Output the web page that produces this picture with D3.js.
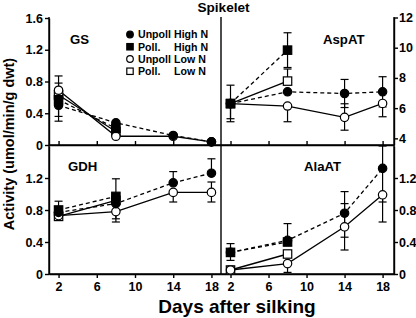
<!DOCTYPE html>
<html><head><meta charset="utf-8">
<script src="https://cdn.jsdelivr.net/npm/d3@7"></script>
<style>
body{margin:0;background:#fff}
svg{display:block}
text{font-family:"Liberation Sans",Arial,sans-serif;font-weight:bold;fill:#000}
</style>
</head><body>
<svg id="c" width="416" height="318"></svg>
<script>
// ---------- data ----------
const days = [2, 8, 14, 18];
const xTickValues = [2, 6, 10, 14, 18];
const seriesFirst = ["Unpoll", "Poll.", "Unpoll", "Poll."];
const seriesSecond = ["High N", "High N", "Low N", "Low N"];
const panelNames = ["GS", "AspAT", "GDH", "AlaAT"];
const gsTicks = [0, 0.4, 0.8, 1.2, 1.6];
const aspTicks = [4, 6, 8, 10, 12];
const lowTicks = [0, 0.4, 0.8, 1.2];

// GS (left, top)
const gsUnpollHigh = [0.50, 0.28, 0.12, 0.04];
const gsPollHigh   = [0.57, 0.21];
const gsUnpollLow  = [0.69, 0.11, 0.11, 0.04];
const gsPollLow    = [0.63, 0.17];
const gsUpErr   = [[0, 0, 0, 0], [0, 0], [0.18, 0, 0, 0], [0.15, 0]];
const gsDownErr = [[0.20, 0, 0, 0], [0.21, 0], [0, 0, 0, 0], [0, 0]];

// AspAT (right, top)
const aspUnpollHigh = [6.30, 7.08, 6.97, 7.08];
const aspPollHigh   = [6.30, 9.84];
const aspUnpollLow  = [6.30, 6.14, 5.39, 6.31];
const aspPollLow    = [6.30, 7.79];
const aspUpErr   = [[0, 0, 0.93, 1.0], [1.22, 1.15], [0, 0, 0.9, 0], [0, 0.8]];
const aspDownErr = [[0, 0, 0.93, 1.0], [0, 1.15], [1.2, 1.04, 0.85, 0.88], [1.0, 0]];

// GDH (left, bottom)
const gdhUnpollHigh = [0.77, 0.88, 1.14, 1.26];
const gdhPollHigh   = [0.80, 0.97];
const gdhUnpollLow  = [0.73, 0.78, 1.02, 1.02];
const gdhPollLow    = [0.72, 0.92];
const gdhUpErr   = [[0, 0, 0.14, 0.18], [0.11, 0.22], [0, 0, 0, 0.13], [0, 0]];
const gdhDownErr = [[0, 0, 0, 0], [0, 0], [0, 0.13, 0.12, 0.12], [0, 0.23]];

// AlaAT (right, bottom)
const alaUnpollHigh = [0.27, 0.42, 0.76, 1.32];
const alaPollHigh   = [0.27, 0.40];
const alaUnpollLow  = [0.05, 0.13, 0.59, 0.99];
const alaPollLow    = [0.05, 0.25];
const alaUpErr   = [[0, 0.21, 0.27, 0.28], [0.11, 0], [0, 0, 0.29, 0], [0, 0]];
const alaDownErr = [[0, 0, 0.30, 0.42], [0.10, 0], [0, 0.11, 0.29, 0.34], [0, 0]];

// ---------- layout ----------
const svg = d3.select("#c");
const X0 = 49, XM = 221, X1 = 394, YT = 18, YM = 145, YB = 274;
const xLeft = d3.scaleLinear([1, 19], [X0, XM]);
const xRight = d3.scaleLinear([1, 19.2], [XM, X1]);
const yGS = d3.scaleLinear([0, 1.6], [YM, YT]);
const yAsp = d3.scaleLinear([3.56, 12], [YM, YT - 0.5]);
const yLow = d3.scaleLinear([0, 1.6], [YB, YM + 1]);

const panels = [
  {name: panelNames[0], x: xLeft, y: yGS, s: [gsUnpollHigh, gsPollHigh, gsUnpollLow, gsPollLow], up: gsUpErr, dn: gsDownErr, lx: 70, ly: 44},
  {name: panelNames[1], x: xRight, y: yAsp, s: [aspUnpollHigh, aspPollHigh, aspUnpollLow, aspPollLow], up: aspUpErr, dn: aspDownErr, lx: 323, ly: 44},
  {name: panelNames[2], x: xLeft, y: yLow, s: [gdhUnpollHigh, gdhPollHigh, gdhUnpollLow, gdhPollLow], up: gdhUpErr, dn: gdhDownErr, lx: 68, ly: 170.5},
  {name: panelNames[3], x: xRight, y: yLow, s: [alaUnpollHigh, alaPollHigh, alaUnpollLow, alaPollLow], up: alaUpErr, dn: alaDownErr, lx: 304, ly: 170.5}
];

const fmt = d => d === 0 ? "0" : d3.format(".1f")(d);
const AX = 1.4;
function styleAxis(g, fs) {
  g.selectAll("path,line").attr("stroke", "#000").attr("stroke-width", AX);
  g.selectAll("text").style("font-size", fs + "px").style("font-family", '"Liberation Sans",Arial,sans-serif').style("font-weight", "bold").attr("fill", "#000");
}

// left axes
svg.append("g").attr("transform", `translate(${X0},0)`)
  .call(d3.axisLeft(yGS).tickValues(gsTicks).tickFormat(fmt).tickSize(4).tickPadding(2).tickSizeOuter(0))
  .call(g => styleAxis(g, 12.5));
svg.append("g").attr("transform", `translate(${X0},0)`)
  .call(d3.axisLeft(yLow).tickValues(lowTicks).tickFormat(fmt).tickSize(4).tickPadding(2).tickSizeOuter(0))
  .call(g => styleAxis(g, 12.5));
// right axes
svg.append("g").attr("transform", `translate(${X1},0)`)
  .call(d3.axisRight(yAsp).tickValues(aspTicks).tickFormat(d3.format("d")).tickSize(4).tickPadding(1).tickSizeOuter(0))
  .call(g => styleAxis(g, 12.5));
svg.append("g").attr("transform", `translate(${X1},0)`)
  .call(d3.axisRight(yLow).tickValues(lowTicks).tickFormat(fmt).tickSize(4).tickPadding(1).tickSizeOuter(0))
  .call(g => styleAxis(g, 12.5));
// x axes: top row ticks pointing up (no labels), bottom row labelled
[xLeft, xRight].forEach(xs => {
  svg.append("g").attr("transform", `translate(0,${YM})`)
    .call(d3.axisTop(xs).tickValues(xTickValues).tickFormat("").tickSize(4).tickSizeOuter(0))
    .call(g => styleAxis(g, 12.5));
  svg.append("g").attr("transform", `translate(0,${YB})`)
    .call(d3.axisBottom(xs).tickValues(xTickValues).tickSize(4).tickPadding(4).tickSizeOuter(0))
    .call(g => styleAxis(g, 12.5));
});
// divider + full axis lines
svg.append("line").attr("x1", XM).attr("x2", XM).attr("y1", YT - 1).attr("y2", YB).attr("stroke", "#000").attr("stroke-width", AX);
svg.append("line").attr("x1", X0).attr("x2", X0).attr("y1", YT - 1).attr("y2", YB).attr("stroke", "#000").attr("stroke-width", AX);
svg.append("line").attr("x1", X1).attr("x2", X1).attr("y1", YT - 1).attr("y2", YB).attr("stroke", "#000").attr("stroke-width", AX);
svg.append("line").attr("x1", X0).attr("x2", X1).attr("y1", YM).attr("y2", YM).attr("stroke", "#000").attr("stroke-width", AX);
svg.append("line").attr("x1", X0).attr("x2", X1).attr("y1", YB).attr("y2", YB).attr("stroke", "#000").attr("stroke-width", AX);

// ---------- marks ----------
const isFilled = i => i < 2;
const isSquare = i => i % 2 === 1;
const isDashed = i => i < 2;
const R = 4.2, SQ = 8.4, CAP = 4;
const drawOrder = [3, 2, 1, 0];

function marker(g, i, cx, cy, r, sq) {
  if (isSquare(i)) {
    g.append("rect").attr("x", cx - sq / 2).attr("y", cy - sq / 2).attr("width", sq).attr("height", sq)
      .attr("fill", isFilled(i) ? "#000" : "#fff").attr("stroke", "#000").attr("stroke-width", 1.2);
  } else {
    g.append("circle").attr("cx", cx).attr("cy", cy).attr("r", r)
      .attr("fill", isFilled(i) ? "#000" : "#fff").attr("stroke", "#000").attr("stroke-width", 1.2);
  }
}

panels.forEach(p => {
  const g = svg.append("g");
  p.s.forEach((vals, i) => {
    const pts = vals.map((v, k) => [days[k], v]);
    const line = d3.line().x(d => p.x(d[0])).y(d => p.y(d[1]));
    g.append("path").attr("d", line(pts)).attr("fill", "none").attr("stroke", "#000")
      .attr("stroke-width", 1.3).attr("stroke-dasharray", isDashed(i) ? "4,3" : null);
  });
  p.s.forEach((vals, i) => {
    vals.forEach((v, k) => {
      const cx = p.x(days[k]);
      [[p.up[i][k], 1], [p.dn[i][k], -1]].forEach(([e, dir]) => {
        if (!e) return;
        const yEnd = p.y(v + dir * e);
        g.append("line").attr("x1", cx).attr("x2", cx).attr("y1", p.y(v)).attr("y2", yEnd).attr("stroke", "#000").attr("stroke-width", 1.2);
        g.append("line").attr("x1", cx - CAP).attr("x2", cx + CAP).attr("y1", yEnd).attr("y2", yEnd).attr("stroke", "#000").attr("stroke-width", 1.2);
      });
    });
  });
  drawOrder.forEach(i => {
    p.s[i].forEach((v, k) => marker(g, i, p.x(days[k]), p.y(v), R, SQ));
  });
  svg.append("text").attr("x", p.lx).attr("y", p.ly).style("font-size", "13.2px").text(p.name);
});

// ---------- legend ----------
seriesFirst.forEach((t, i) => {
  const y = 38.3 + i * 12.25;
  marker(svg, i, 130, y - 3.8, 3.3, 6.4);
  svg.append("text").attr("x", 138).attr("y", y).style("font-size", "10.6px").text(t);
  svg.append("text").attr("x", 174).attr("y", y).style("font-size", "10.6px").text(seriesSecond[i]);
});

// ---------- titles ----------
svg.append("text").attr("x", 223.5).attr("y", 12).attr("text-anchor", "middle").style("font-size", "13.6px").text("Spikelet");
svg.append("text").attr("x", 237).attr("y", 313).attr("text-anchor", "middle").style("font-size", "19px").text("Days after silking");
svg.append("text").attr("transform", "translate(13.5,144) rotate(-90)").attr("text-anchor", "middle").style("font-size", "14.5px").text("Activity (umol/min/g dwt)");
</script>
</body></html>
